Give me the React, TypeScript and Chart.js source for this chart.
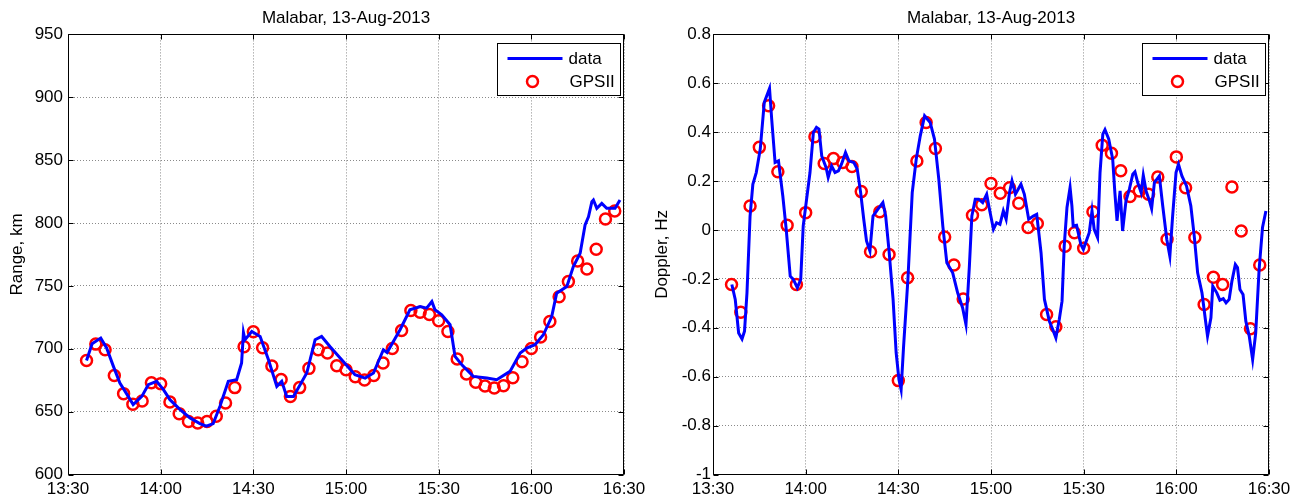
import React, { useEffect, useRef } from 'react';
import { Chart, registerables } from 'chart.js';

Chart.register(...registerables);

const FONT = '"Liberation Sans", Arial, Helvetica, sans-serif';

// ---- shared axis data (minutes after 13:30) ----
const X_TICK_LABELS = ['13:30', '14:00', '14:30', '15:00', '15:30', '16:00', '16:30'];
const TITLE = 'Malabar, 13-Aug-2013';

// GPSII sample times (minutes after 13:30)
const GPS_T = [
  6, 9, 12, 15, 18, 21, 24, 27, 30, 33, 36, 39, 42, 45, 48, 51, 54, 57, 60, 63,
  66, 69, 72, 75, 78, 81, 84, 87, 90, 93, 96, 99, 102, 105, 108, 111, 114, 117, 120, 123,
  126, 129, 132, 135, 138, 141, 144, 147, 150, 153, 156, 159, 162, 165, 168, 171, 174, 177,
];

// ---- left panel: Range ----
const RANGE_Y_LABELS = ['600', '650', '700', '750', '800', '850', '900', '950'];
const RANGE_GPS = [
  690.7, 703.7, 699.2, 678.8, 664.3, 655.8, 658.5, 673.0, 672.2, 657.7,
  648.4, 642.1, 641.0, 642.1, 646.3, 656.9, 669.1, 701.6, 713.5, 700.8,
  686.3, 675.6, 662.1, 669.1, 684.4, 699.2, 696.6, 686.5, 683.3, 677.8,
  675.2, 678.8, 688.7, 700.2, 714.5, 730.4, 729.1, 727.2, 722.2, 713.7,
  691.8, 679.9, 673.3, 670.4, 668.8, 670.6, 677.0, 689.7, 700.2, 709.3,
  721.7, 741.3, 753.4, 769.8, 763.5, 779.1, 803.2, 809.5,
];
const RANGE_DATA_T = [
  6.0, 7.8, 10.6, 12.5, 14.7, 16.8, 19.5, 21.1, 23.9, 26.0,
  28.7, 30.9, 33.0, 36.3, 39.5, 42.7, 44.8, 47.0, 49.2, 51.9,
  54.6, 56.2, 56.8, 57.3, 59.5, 62.2, 64.9, 67.6, 69.2, 70.8,
  73.0, 77.3, 80.0, 82.1, 84.8, 88.1, 92.9, 96.2, 98.9, 102.1,
  103.3, 107.5, 110.7, 114.0, 116.1, 117.8, 118.8, 121.0, 123.7, 125.3,
  127.5, 131.2, 135.6, 138.8, 143.1, 146.4, 148.5, 151.2, 153.9, 156.6,
  158.2, 161.5, 163.6, 165.8, 167.4, 168.5, 169.6, 170.1, 171.2, 172.8,
  174.4, 177.1, 178.7,
];
const RANGE_DATA_V = [
  690.7, 704.0, 708.5, 700.6, 686.0, 672.8, 662.1, 655.6, 662.1, 671.4,
  674.1, 667.5, 659.5, 651.6, 645.0, 640.5, 638.5, 640.5, 654.2, 674.1,
  675.4, 688.7, 712.9, 707.2, 713.7, 709.8, 691.3, 670.1, 674.1, 662.1,
  662.1, 680.7, 707.2, 709.8, 701.8, 692.6, 679.4, 676.7, 680.7, 699.2,
  697.0, 715.1, 731.0, 733.6, 732.3, 737.5, 731.0, 727.0, 719.1, 693.9,
  687.3, 678.0, 676.7, 675.4, 682.0, 696.6, 700.6, 703.2, 711.1, 725.6,
  744.2, 749.5, 765.3, 776.0, 798.4, 805.0, 816.9, 818.3, 811.7, 815.6,
  811.7, 811.7, 818.3,
];

// ---- right panel: Doppler ----
const DOPPLER_Y_LABELS = ['-1', '-0.8', '-0.6', '-0.4', '-0.2', '0', '0.2', '0.4', '0.6', '0.8'];
const DOPPLER_GPS = [
  -0.223, -0.336, 0.098, 0.338, 0.508, 0.238, 0.019, -0.223, 0.071, 0.381,
  0.272, 0.292, 0.276, 0.260, 0.157, -0.089, 0.075, -0.100, -0.616, -0.195,
  0.282, 0.440, 0.333, -0.029, -0.143, -0.282, 0.060, 0.103, 0.190, 0.150,
  0.173, 0.109, 0.010, 0.027, -0.346, -0.396, -0.066, -0.011, -0.075, 0.075,
  0.347, 0.314, 0.242, 0.137, 0.160, 0.146, 0.217, -0.038, 0.299, 0.173,
  -0.031, -0.305, -0.193, -0.223, 0.176, -0.004, -0.404, -0.143,
];
const DOPPLER_DATA_T = [
  6.1, 7.2, 8.3, 9.4, 10.2, 11.0, 12.0, 12.9, 14.0, 15.3,
  16.6, 18.3, 19.0, 20.1, 21.2, 22.6, 23.7, 25.0, 26.0, 27.3,
  28.4, 29.2, 30.3, 31.4, 32.5, 33.5, 34.3, 35.2, 36.6, 37.3,
  38.4, 39.5, 40.6, 41.6, 42.9, 44.0, 45.6, 46.7, 47.8, 48.8,
  49.7, 50.8, 51.8, 53.4, 55.0, 55.9, 57.0, 58.3, 59.3, 60.2,
  60.9, 61.7, 63.1, 64.5, 65.8, 67.1, 68.5, 70.3, 71.7, 73.1,
  74.4, 75.7, 77.6, 79.2, 80.8, 81.9, 83.0, 83.8, 84.9, 86.0,
  87.3, 88.6, 89.5, 90.8, 91.8, 92.9, 94.0, 94.9, 96.0, 96.8,
  97.9, 99.7, 100.8, 102.2, 103.7, 104.8, 106.2, 107.3, 108.9, 110.0,
  111.0, 112.1, 113.0, 113.7, 114.6, 115.6, 116.2, 116.6, 117.7, 119.1,
  119.9, 121.8, 122.7, 123.4, 124.5, 125.3, 126.2, 126.9, 128.1, 129.4,
  130.1, 130.8, 131.8, 132.6, 133.7, 134.8, 135.9, 136.6, 137.5, 138.6,
  139.3, 140.2, 141.3, 142.0, 142.9, 144.5, 145.6, 146.9, 147.9, 148.8,
  149.9, 150.7, 151.8, 153.3, 154.7, 155.8, 156.9, 158.3, 159.4, 160.1,
  161.2, 161.8, 163.1, 164.1, 165.2, 166.1, 167.1, 168.0, 169.1, 169.8,
  170.6, 171.6, 172.5, 173.6, 174.7, 175.7, 176.8, 177.9, 179.0,
];
const DOPPLER_DATA_V = [
  -0.223, -0.284, -0.421, -0.446, -0.414, -0.257, 0.057, 0.187, 0.235, 0.331,
  0.522, 0.579, 0.454, 0.276, 0.283, 0.139, 0.003, -0.189, -0.202, -0.236,
  -0.202, 0.016, 0.126, 0.235, 0.399, 0.420, 0.413, 0.303, 0.256, 0.215,
  0.262, 0.235, 0.242, 0.269, 0.317, 0.283, 0.276, 0.249, 0.153, 0.044,
  -0.045, -0.086, 0.057, 0.085, 0.112, 0.057, -0.086, -0.284, -0.503, -0.612,
  -0.653, -0.476, -0.202, 0.153, 0.290, 0.385, 0.467, 0.440, 0.372, 0.208,
  0.016, -0.134, -0.175, -0.257, -0.318, -0.387, -0.148, 0.057, 0.126, 0.126,
  0.112, 0.146, 0.085, 0.003, 0.030, 0.023, 0.078, 0.044, 0.153, 0.201,
  0.146, 0.187, 0.146, 0.044, 0.057, 0.064, -0.093, -0.284, -0.373, -0.407,
  -0.441, -0.366, -0.291, -0.066, 0.092, 0.174, 0.098, 0.016, 0.019, -0.059,
  -0.079, -0.011, 0.078, 0.003, -0.031, 0.235, 0.392, 0.410, 0.372, 0.290,
  0.153, 0.037, 0.160, -0.004, 0.119, 0.167, 0.228, 0.238, 0.194, 0.153,
  0.224, 0.160, 0.119, 0.087, 0.194, 0.221, 0.098, -0.038, -0.107, 0.057,
  0.235, 0.269, 0.221, 0.180, 0.098, -0.025, -0.175, -0.257, -0.366, -0.434,
  -0.359, -0.230, -0.257, -0.287, -0.281, -0.298, -0.284, -0.209, -0.141, -0.154,
  -0.243, -0.264, -0.373, -0.434, -0.530, -0.421, -0.161, 0.010, 0.078,
];

const LINE_COLOR = '#0000ff';
const MARKER_COLOR = '#ff0000';

// Plugin: MATLAB-style title over the axes, box, inward ticks, and boxed legend.
const matlabPlugin = {
  id: 'matlabFrame',
  afterDatasetsDraw(chart: any) {
    const { ctx, chartArea: a, scales } = chart;
    ctx.save();
    ctx.strokeStyle = '#000';
    ctx.lineWidth = 1;
    const L = Math.round(a.left) + 0.5;
    const R = Math.round(a.right) - 0.5;
    const T = Math.round(a.top) + 0.5;
    const B = Math.round(a.bottom) - 0.5;
    ctx.beginPath();
    ctx.rect(L, T, R - L, B - T);
    ctx.stroke();
    const tl = 5;
    ctx.beginPath();
    scales.x.ticks.forEach((t: any) => {
      const px = Math.round(scales.x.getPixelForValue(t.value)) + 0.5;
      ctx.moveTo(px, B); ctx.lineTo(px, B - tl);
      ctx.moveTo(px, T); ctx.lineTo(px, T + tl);
    });
    scales.y.ticks.forEach((t: any) => {
      const py = Math.round(scales.y.getPixelForValue(t.value)) + 0.5;
      ctx.moveTo(L, py); ctx.lineTo(L + tl, py);
      ctx.moveTo(R, py); ctx.lineTo(R - tl, py);
    });
    ctx.stroke();
    ctx.restore();
  },
  afterDraw(chart: any) {
    const { ctx, chartArea: a } = chart;
    const ds = chart.data.datasets;
    ctx.save();
    // title centred over the axes box
    ctx.font = `17px ${FONT}`;
    ctx.fillStyle = '#000';
    ctx.textAlign = 'center';
    ctx.textBaseline = 'middle';
    ctx.fillText(TITLE, (a.left + a.right) / 2, 18.2);
    // legend
    const w = 123;
    const h = 52;
    const x0 = Math.round(a.right - 4 - w) + 0.5;
    const y0 = Math.round(a.top + 9) + 0.5;
    ctx.fillStyle = '#fff';
    ctx.fillRect(x0, y0, w, h);
    ctx.strokeStyle = '#000';
    ctx.lineWidth = 1;
    ctx.strokeRect(x0, y0, w, h);
    ctx.textBaseline = 'middle';
    ctx.textAlign = 'left';
    ctx.fillStyle = '#000';
    const row1 = y0 + 15;
    const row2 = y0 + 38;
    ctx.strokeStyle = ds[0].borderColor;
    ctx.lineWidth = ds[0].borderWidth;
    ctx.beginPath();
    ctx.moveTo(x0 + 10, row1);
    ctx.lineTo(x0 + 65, row1);
    ctx.stroke();
    ctx.fillText(ds[0].label, x0 + 71, row1 + 1);
    ctx.strokeStyle = ds[1].pointBorderColor;
    ctx.lineWidth = ds[1].pointBorderWidth;
    ctx.beginPath();
    ctx.arc(x0 + 35, row2, ds[1].pointRadius, 0, Math.PI * 2);
    ctx.stroke();
    ctx.fillText(ds[1].label, x0 + 72, row2 + 1);
    ctx.restore();
  },
};

type PanelProps = {
  left: number;
  width: number;
  padRight: number;
  tickPad: number;
  yTitle: string;
  yMin: number;
  yMax: number;
  yStep: number;
  yLabels: string[];
  lineT: number[];
  lineV: number[];
  gpsV: number[];
};

function Panel(p: PanelProps) {
  const ref = useRef<HTMLCanvasElement | null>(null);
  useEffect(() => {
    if (!ref.current) return;
    const chart = new Chart(ref.current, {
      type: 'line',
      data: {
        datasets: [
          {
            label: 'data',
            data: p.lineT.map((t, i) => ({ x: t, y: p.lineV[i] })),
            borderColor: LINE_COLOR,
            borderWidth: 3,
            pointRadius: 0,
            tension: 0,
            fill: false,
          },
          {
            label: 'GPSII',
            data: GPS_T.map((t, i) => ({ x: t, y: p.gpsV[i] })),
            showLine: false,
            pointRadius: 5.5,
            pointBorderWidth: 2.5,
            pointBorderColor: MARKER_COLOR,
            pointBackgroundColor: 'rgba(0,0,0,0)',
            borderColor: MARKER_COLOR,
          } as any,
        ],
      },
      options: {
        animation: false,
        responsive: false,
        devicePixelRatio: 1,
        layout: { padding: { left: 0, right: p.padRight, top: 34.4, bottom: 0 } },
        plugins: {
          legend: { display: false },
          tooltip: { enabled: false },
          title: { display: false },
        },
        scales: {
          x: {
            type: 'linear',
            min: 0,
            max: 180,
            afterFit: (s: any) => { s.height = 25.5; },
            ticks: {
              stepSize: 30,
              autoSkip: false,
              maxRotation: 0,
              padding: 5,
              color: '#000',
              font: { family: FONT, size: 17 },
              callback: (_v: any, i: number) => X_TICK_LABELS[i],
            },
            grid: { color: '#8a8a8a', lineWidth: 1, drawTicks: false },
            border: { display: false, dash: [1, 2] },
          },
          y: {
            type: 'linear',
            min: p.yMin,
            max: p.yMax,
            afterFit: (s: any) => { s.width = 68; },
            ticks: {
              stepSize: p.yStep,
              autoSkip: false,
              padding: p.tickPad,
              color: '#000',
              font: { family: FONT, size: 17 },
              callback: (_v: any, i: number) => p.yLabels[i],
            },
            title: {
              display: true,
              text: p.yTitle,
              color: '#000',
              font: { family: FONT, size: 17 },
              padding: { top: 7, bottom: 0 },
            },
            grid: { color: '#8a8a8a', lineWidth: 1, drawTicks: false },
            border: { display: false, dash: [1, 2] },
          },
        },
      } as any,
      plugins: [matlabPlugin],
    });
    return () => chart.destroy();
  }, []);
  return (
    <canvas
      ref={ref}
      width={p.width}
      height={500}
      style={{ position: 'absolute', left: p.left, top: 0, width: p.width, height: 500 }}
    />
  );
}

export default function App() {
  return (
    <div style={{ position: 'absolute', left: 0, top: 0, width: 1305, height: 500, background: '#fff', overflow: 'hidden' }}>
      <Panel
        left={0}
        width={652}
        padRight={28}
        tickPad={5}
        yTitle="Range, km"
        yMin={600}
        yMax={950}
        yStep={50}
        yLabels={RANGE_Y_LABELS}
        lineT={RANGE_DATA_T}
        lineV={RANGE_DATA_V}
        gpsV={RANGE_GPS}
      />
      <Panel
        left={645}
        width={660}
        padRight={36}
        tickPad={2}
        yTitle="Doppler, Hz"
        yMin={-1}
        yMax={0.8}
        yStep={0.2}
        yLabels={DOPPLER_Y_LABELS}
        lineT={DOPPLER_DATA_T}
        lineV={DOPPLER_DATA_V}
        gpsV={DOPPLER_GPS}
      />
    </div>
  );
}
